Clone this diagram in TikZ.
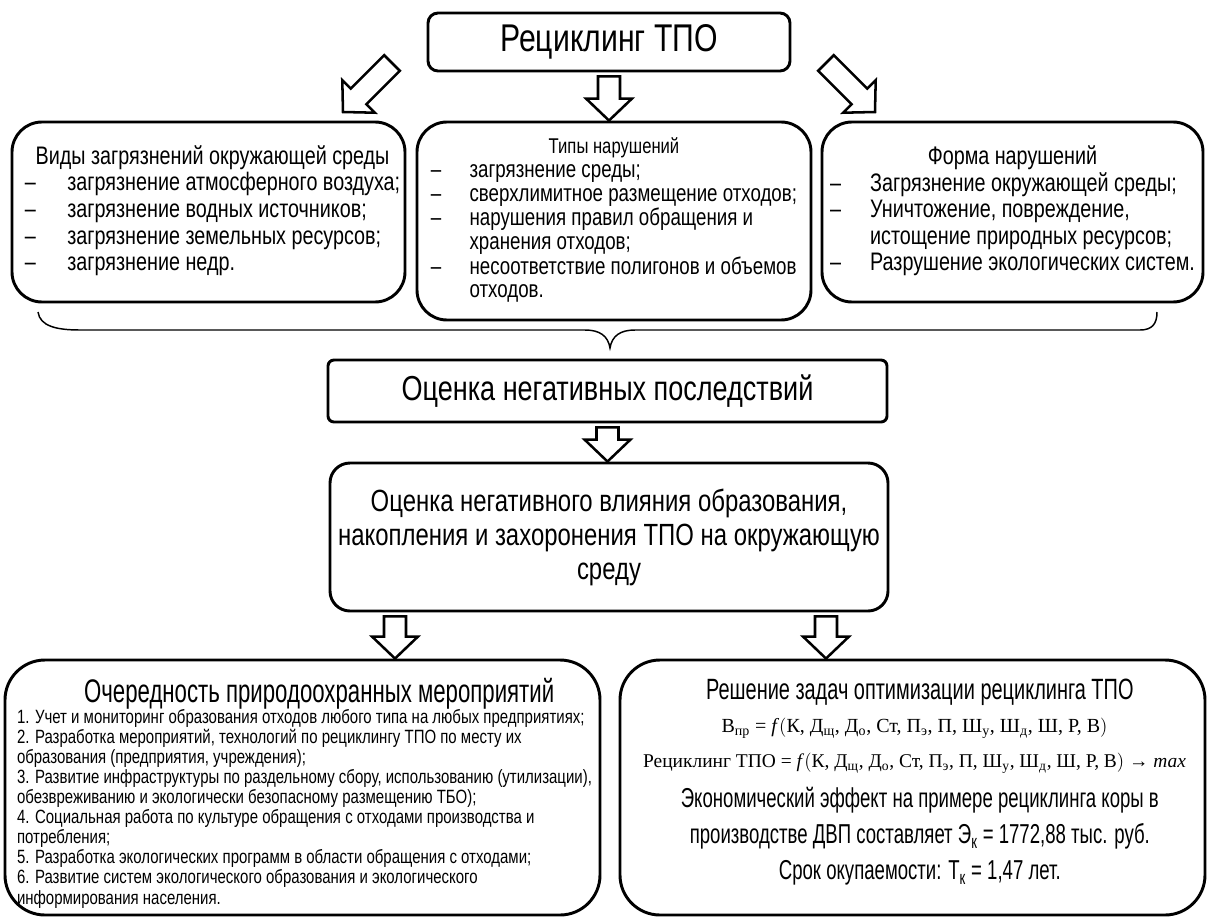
\documentclass[tikz,border=0pt]{standalone}
\usepackage{fontspec}
\setmainfont{Liberation Sans}[FakeStretch=0.78]
\newfontfamily\narrow{Liberation Sans}[FakeStretch=0.68]
\newfontfamily\frm{Liberation Serif}
\usetikzlibrary{calc}
\newcommand\fs[2]{\fontsize{#1}{#2}\selectfont}
\newcommand\px[1]{#1*0.75pt}
\newcommand\sbs[1]{\textsubscript{#1}}
\newcommand\blockarrow[2]{%
  \coordinate (ba) at ($(#2)!16.5pt!(#1)$);
  \draw[barr] ($(#1)!8.25pt!90:(#2)$) -- ($(ba)!8.25pt!90:(#2)$) -- ($(ba)!17.25pt!90:(#2)$)
    -- (#2) -- ($(ba)!17.25pt!-90:(#2)$) -- ($(ba)!8.25pt!-90:(#2)$) -- ($(#1)!8.25pt!-90:(#2)$) -- cycle;}
\begin{document}
\begin{tikzpicture}[x=0.75pt,y=-0.75pt,
  box/.style={draw, line width=2.2pt, inner sep=0pt, align=center},
  txt/.style={inner sep=0pt, align=center},
  barr/.style={draw, line width=1.9pt, fill=white, line join=miter},
  brc/.style={line width=1.1pt}]
\useasboundingbox[fill=white] (0,0) rectangle (1208,918);

% top
\node[box, rounded corners=\px{10}, minimum width=\px{362}, minimum height=\px{58}] (top) at (609,42)
  {\fs{29}{32}Рециклинг ТПО};

% three boxes
\node[box, rounded corners=\px{30}, minimum width=\px{393}, minimum height=\px{180}] (b1) at (208.5,212) {};
\node[txt] (t1) at ($(b1.center)+(4,0)$)
  {\fs{19}{20}\begin{tabular}{@{}p{32pt}@{}l@{}}
   \multicolumn{2}{c}{Виды загрязнений окружающей среды}\\
   –& загрязнение атмосферного воздуха;\\
   –& загрязнение водных источников;\\
   –& загрязнение земельных ресурсов;\\
   –& загрязнение недр.
  \end{tabular}};
\node[box, rounded corners=\px{30}, minimum width=\px{394}, minimum height=\px{198}] (b2) at (614,221)
  {\fs{18}{17.8}\begin{tabular}{@{}p{29pt}@{}l@{}}
   \multicolumn{2}{c}{\fs{16}{18}Типы нарушений}\\
   –& загрязнение среды;\\
   –& сверхлимитное размещение отходов;\\
   –& нарушения правил обращения и\\
    & хранения отходов;\\
   –& несоответствие полигонов и объемов\\
    & отходов.
  \end{tabular}};
\node[box, rounded corners=\px{30}, minimum width=\px{381}, minimum height=\px{180}] (b3) at (1012.5,212)
  {\fs{19}{19.8}\begin{tabular}{@{}p{30pt}@{}l@{}}
   \multicolumn{2}{c}{Форма нарушений}\\
   –& Загрязнение окружающей среды;\\
   –& Уничтожение, повреждение,\\
    & истощение природных ресурсов;\\
   –& Разрушение экологических систем.
  \end{tabular}};

% arrows from top
\coordinate (la-t) at (392,63);
\coordinate (la-h) at (343,112);
\coordinate (ra-t) at (826,63);
\coordinate (ra-h) at (875,112);
\coordinate (ma-t) at ($(top.south)+(0,4)$);
\coordinate (ma-h) at (top.south |- b2.north);
\blockarrow{la-t}{la-h}
\blockarrow{ra-t}{ra-h}
\blockarrow{ma-t}{ma-h}

% brace
\draw[brc] (38,312) .. controls (40,326) and (56,330) .. (80,330) -- (585,330)
  .. controls (600,330) and (608,336) .. (610,348)
  .. controls (612,336) and (620,330) .. (635,330) -- (1140,330)
  .. controls (1152,330) and (1157,324) .. (1157,312);

% assessment
\node[box, rounded corners=\px{6}, minimum width=\px{559}, minimum height=\px{62}] (b4) at (607.5,391)
  {\fs{26}{30}Оценка негативных последствий};
\node[box, rounded corners=\px{20}, minimum width=\px{558}, minimum height=\px{148}, font=\fs{23}{25.5}] (b5) at (609,537)
  {Оценка негативного влияния образования,\\ накопления и захоронения ТПО на окружающую\\ среду};
\coordinate (a3t) at ($(b4.south)+(0,4)$);
\coordinate (a3h) at (a3t |- b5.north);
\blockarrow{a3t}{a3h}

% bottom boxes
\node[box, rounded corners=\px{40}, minimum width=\px{595}, minimum height=\px{255}] (b6) at (302.5,787.5) {};
\node[txt] (t6) at ($(b6.center)+(2,7)$)
  {\fs{14.4}{14.9}\begin{tabular}{@{}l@{}}
   \multicolumn{1}{c}{\hspace{22pt}\narrow\fs{24.5}{28}Очередность природоохранных мероприятий}\\
   1. Учет и мониторинг образования отходов любого типа на любых предприятиях;\\
   2. Разработка мероприятий, технологий по рециклингу ТПО по месту их\\
   образования (предприятия, учреждения);\\
   3. Развитие инфраструктуры по раздельному сбору, использованию (утилизации),\\
   обезвреживанию и экологически безопасному размещению ТБО);\\
   4. Социальная работа по культуре обращения с отходами производства и\\
   потребления;\\
   5. Разработка экологических программ в области обращения с отходами;\\
   6. Развитие систем экологического образования и экологического\\[1pt]
   информирования населения.
  \end{tabular}};
\node[box, rounded corners=\px{40}, minimum width=\px{585}, minimum height=\px{255}] (b7) at (912.5,787.5) {};
\node[txt] (t7) at ($(b7.center)+(2,-5)$)
  {\begin{minipage}{436pt}\centering
   {\narrow\fs{22}{26}\hspace*{8pt}Решение задач оптимизации рециклинга ТПО\par}
   {\frm\fs{15}{24.75}В\sbs{пр} = \textit{f}$\big($К, Д\sbs{щ}, Д\sbs{о}, Ст, П\sbs{э}, П, Ш\sbs{у}, Ш\sbs{д}, Ш, Р, В$\big)$\par}
   {\frm\fs{14.6}{26.25}Рециклинг ТПО = \textit{f}$\big($К, Д\sbs{щ}, Д\sbs{о}, Ст, П\sbs{э}, П, Ш\sbs{у}, Ш\sbs{д}, Ш, Р, В$\big)$ → \textit{max}\par}
   {\narrow\fs{20.5}{27}\vspace{3pt}\hspace*{8pt}Экономический эффект на примере рециклинга коры в\\
   \hspace*{8pt}производстве ДВП составляет Э\sbs{к} = 1772,88 тыс. руб.\\
   \hspace*{8pt}Срок окупаемости: Т\sbs{к} = 1,47 лет.\par}
  \end{minipage}};

\coordinate (a4t) at ($(b5.south)+(-214,4)$);
\coordinate (a4h) at (a4t |- b6.north);
\coordinate (a5t) at ($(b5.south)+(217,4)$);
\coordinate (a5h) at (a5t |- b7.north);
\blockarrow{a4t}{a4h}
\blockarrow{a5t}{a5h}
\end{tikzpicture}
\end{document}
